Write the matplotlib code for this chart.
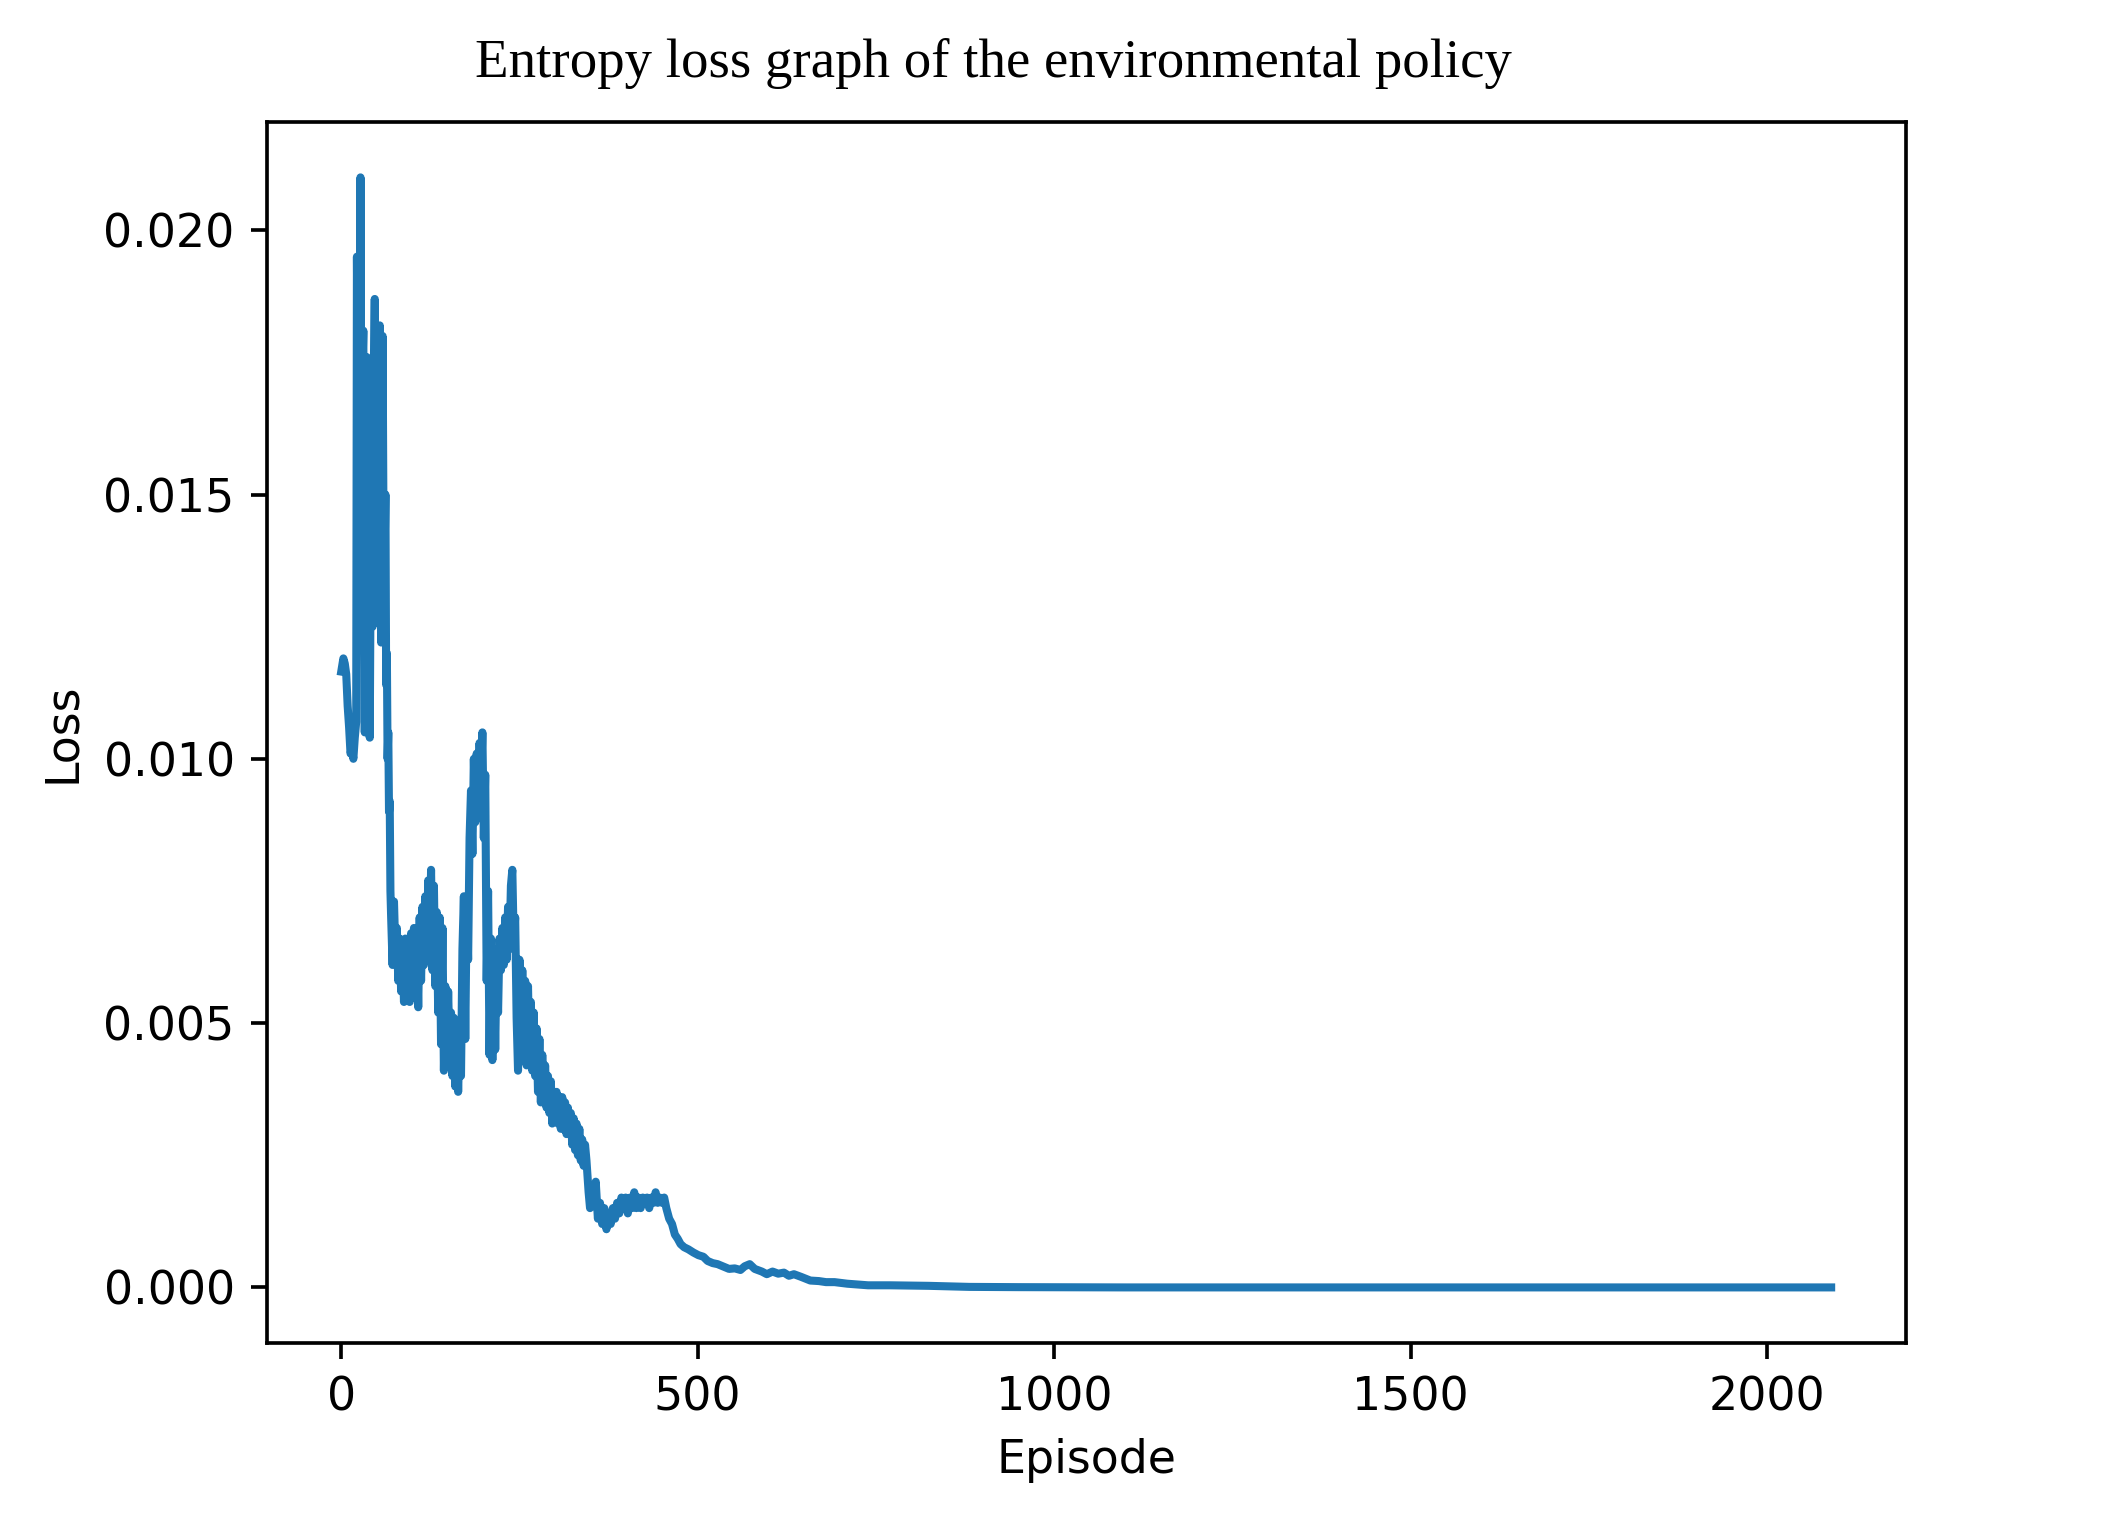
import matplotlib
matplotlib.use("Agg")
from matplotlib import pyplot as plt

# Episode / loss points (dense where it is noisy)
episodes = [
    0, 3, 5, 7, 9, 11, 13, 15, 17, 19, 21, 22, 24, 25, 26, 27, 28, 29, 30, 31,
    32, 33, 34, 35, 36, 37, 38, 39, 40, 41, 42, 43, 44, 45, 46, 47, 48, 49, 50, 51,
    52, 53, 54, 55, 56, 57, 58, 59, 60, 61, 62, 63, 64, 65, 66, 67, 68, 69, 70,
    72, 74, 76, 78, 80, 82, 84, 86, 88, 90, 92, 94, 96, 98, 100, 102, 104, 106, 108, 110,
    112, 114, 116, 118, 120, 122, 124, 126, 128, 130, 132, 134, 136, 138, 140, 142, 144, 146, 148, 150,
    152, 154, 156, 158, 160, 162, 164, 166, 168, 170, 172, 174, 176, 178, 180, 182, 184, 186, 188, 190,
    192, 194, 196, 198, 200, 202, 204, 206, 208, 210, 212, 214, 216, 218, 220, 222, 224, 226, 228, 230,
    232, 234, 236, 238, 240, 242, 244, 246, 248, 250, 252, 254, 256, 258, 260, 262, 264, 266, 268, 270,
    272, 274, 276, 278, 280, 282, 284, 286, 288, 290, 292, 294, 296, 298, 300, 302, 304, 306, 308, 310,
    312, 314, 316, 318, 320, 322, 324, 326, 328, 330, 332, 334, 336, 338, 340, 342, 344,
    347, 349, 352, 355, 357, 360, 363, 366, 369, 372, 375, 378, 381, 384, 387, 390, 393, 396, 399, 402,
    405, 408, 411, 414, 417, 420, 423, 426, 429, 432, 435, 438, 441, 444, 447, 450, 453, 456, 460, 464,
    468, 472, 476, 481, 487, 494, 501, 508, 514, 521, 528, 535, 544, 552, 560, 566, 573, 580, 590, 597,
    605, 613, 621, 628, 635, 645, 658, 670, 680, 692, 710, 739, 770, 824, 881, 950, 1100, 1500, 2090,
]
loss = [
    0.01165, 0.0119, 0.0118, 0.0116, 0.0110, 0.0106, 0.0101, 0.0102, 0.0100, 0.0104,
    0.0107, 0.0195, 0.0150, 0.0180, 0.0140, 0.0210, 0.0160, 0.0135, 0.0175, 0.0181,
    0.0132, 0.0105, 0.0140, 0.0170, 0.0176, 0.0145, 0.0131, 0.0165, 0.0104, 0.0130,
    0.0172, 0.0160, 0.0125, 0.0150, 0.0175, 0.0187, 0.0140, 0.0131, 0.0168, 0.0176,
    0.0128, 0.0150, 0.0182, 0.0175, 0.0122, 0.0160, 0.0180, 0.0150, 0.0123, 0.0140,
    0.0150, 0.0114, 0.0120, 0.0100, 0.0105, 0.0090, 0.0092, 0.0075, 0.0070,
    0.0061, 0.0073, 0.0063, 0.0068, 0.0058, 0.0066, 0.0056, 0.0064, 0.0054, 0.0066,
    0.0055, 0.0065, 0.0054, 0.0067, 0.0056, 0.0068, 0.0057, 0.0067, 0.0053, 0.0070,
    0.0058, 0.0072, 0.0061, 0.0074, 0.0062, 0.0077, 0.0065, 0.0079, 0.0060, 0.0076,
    0.0057, 0.0071, 0.0052, 0.0070, 0.0046, 0.0068, 0.0041, 0.0057, 0.0043, 0.0056,
    0.0044, 0.0052, 0.0040, 0.0051, 0.0038, 0.0049, 0.0037, 0.0048, 0.0040, 0.0064,
    0.0074, 0.0047, 0.0073, 0.0062, 0.0085, 0.0094, 0.0082, 0.0100, 0.0088, 0.0101,
    0.0090, 0.0103, 0.0095, 0.0105, 0.0085, 0.0097, 0.0058, 0.0075, 0.0044, 0.0066,
    0.0043, 0.0064, 0.0045, 0.0063, 0.0052, 0.0066, 0.0060, 0.0068, 0.0061, 0.0070,
    0.0062, 0.0072, 0.0064, 0.0076, 0.0079, 0.0065, 0.0070, 0.0051, 0.0041, 0.0062,
    0.0046, 0.0060, 0.0045, 0.0058, 0.0042, 0.0057, 0.0043, 0.0054, 0.0041, 0.0052,
    0.0040, 0.0049, 0.0037, 0.0047, 0.0035, 0.0044, 0.0036, 0.0042, 0.0034, 0.0040,
    0.0033, 0.0039, 0.0031, 0.0037, 0.0032, 0.0037, 0.0031, 0.0036, 0.0030, 0.0036,
    0.0030, 0.0035, 0.0029, 0.0034, 0.0029, 0.0033, 0.0027, 0.0032, 0.0026, 0.0031,
    0.0025, 0.0030, 0.0024, 0.0028, 0.0023, 0.0027, 0.0024,
    0.0018, 0.0015, 0.0019, 0.0016, 0.0020, 0.0013, 0.0016, 0.0012, 0.0015, 0.0011,
    0.0014, 0.0012, 0.0015, 0.0013, 0.0016, 0.0014, 0.0017, 0.0015, 0.0017, 0.0014,
    0.0017, 0.0015, 0.0018, 0.0015, 0.0017, 0.0015, 0.0017, 0.0016, 0.0017, 0.0015,
    0.0017, 0.0016, 0.0018, 0.0016, 0.0017, 0.0016, 0.0017, 0.0015, 0.0013, 0.0012,
    0.0010, 0.00092, 0.00082, 0.00076, 0.00072, 0.00066, 0.00061, 0.00058, 0.00050, 0.00046,
    0.00044, 0.00040, 0.00035, 0.00036, 0.00033, 0.00040, 0.00044, 0.00035, 0.00030, 0.00025,
    0.00030, 0.00026, 0.00028, 0.00022, 0.00025, 0.00020, 0.00013, 0.00012, 0.00010, 0.00010,
    0.00007, 0.00004, 0.00004, 0.00003, 0.00001, 0.000005, 0.0, 0.0, 0.0,
]

S = 3.3  # the reference is a default 640x480 matplotlib figure blown up ~3.3x

plt.rcParams.update({
    "font.size": 10 * S,
    "axes.linewidth": 0.8 * S,
    "xtick.major.size": 3.5 * S,
    "ytick.major.size": 3.5 * S,
    "xtick.major.width": 0.8 * S,
    "ytick.major.width": 0.8 * S,
    "xtick.major.pad": 3.5 * S,
    "ytick.major.pad": 3.5 * S,
    "axes.labelpad": 4 * S,
})

fig = plt.figure(figsize=(21.12, 15.14), dpi=100)
ax = fig.add_axes([0.1263, 0.113, 0.776, 0.8065])

ax.plot(episodes, loss, color="#1f77b4", linewidth=5.8)
ax.set_xlabel("Episode")
ax.set_ylabel("Loss")
ax.set_yticks([0.0, 0.005, 0.010, 0.015, 0.020])
ax.set_xticks([0, 500, 1000, 1500, 2000])

fig.text(0.4706, 0.958, "Entropy loss graph of the environmental policy",
         ha="center", va="center", family="Liberation Serif", fontsize=39.5)

fig.savefig("out.png", dpi=100)
